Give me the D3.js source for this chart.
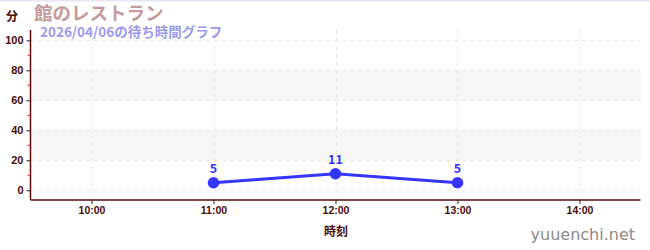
<!DOCTYPE html>
<html>
<head>
<meta charset="utf-8">
<script src="https://cdn.jsdelivr.net/npm/d3@7/dist/d3.min.js"></script>
<style>
  html, body { margin: 0; padding: 0; background: #fff; }
  svg { display: block; font-family: "Noto Sans CJK JP", "Noto Sans", sans-serif; }
</style>
</head>
<body>
<svg id="chart" width="650" height="250"></svg>
<script>
// Wait-time data for the day
const times = ["11:00", "12:00", "13:00"];
const waits = [5, 11, 5];
const xTickLabels = ["10:00", "11:00", "12:00", "13:00", "14:00"];
const yTicks = [0, 20, 40, 60, 80, 100];
const yMinorTicks = [10, 30, 50, 70, 90];
const bands = [[20, 40], [60, 80]];

const titleText = "館のレストラン";
const subtitleText = "2026/04/06の待ち時間グラフ";
const yUnit = "分";
const xTitle = "時刻";
const siteName = "yuuenchi.net";

const svg = d3.select("#chart");
const W = 650, H = 250;
const m = { left: 30.5, right: 9.5, top: 30, bottom: 50 };

const toMin = s => { const [h, mm] = s.split(":").map(Number); return h * 60 + mm; };

const x = d3.scaleLinear()
  .domain([toMin("9:30"), toMin("14:30")])
  .range([m.left, W - m.right]);
const y = d3.scaleLinear()
  .domain([-6.5, 106.9])
  .range([H - m.bottom, m.top]);

const axisColor = "#5a0a0a";
const labelColor = "#4a0a0a";
const seriesColor = "#3535ff";

// top border line
svg.append("rect").attr("x", 0).attr("y", 0).attr("width", W).attr("height", 1.5).attr("fill", "#e6e6f6");

// shaded bands
svg.append("g").selectAll("rect").data(bands).join("rect")
  .attr("x", m.left)
  .attr("width", W - m.right - m.left)
  .attr("y", d => y(d[1]))
  .attr("height", d => y(d[0]) - y(d[1]))
  .attr("fill", "#f6f6f6");

// grid lines
const grid = svg.append("g").attr("stroke", "#e8e8e8").attr("stroke-dasharray", "4,4").attr("stroke-width", 1);
grid.selectAll("line.h").data(yTicks).join("line")
  .attr("x1", m.left).attr("x2", W - m.right)
  .attr("y1", d => Math.round(y(d)) + 0.5).attr("y2", d => Math.round(y(d)) + 0.5);
grid.selectAll("line.v").data(xTickLabels).join("line")
  .attr("x1", d => Math.round(x(toMin(d))) + 0.5).attr("x2", d => Math.round(x(toMin(d))) + 0.5)
  .attr("y1", m.top).attr("y2", H - m.bottom);

// y axis
const yAxis = d3.axisLeft(y).tickValues(yTicks).tickSize(4).tickPadding(3).tickFormat(d3.format("d"));
const gy = svg.append("g").attr("transform", `translate(${m.left},0)`).call(yAxis);
gy.select(".domain").attr("stroke", axisColor).attr("stroke-width", 1.5)
  .attr("d", `M0,${m.top}V${H - m.bottom}`);
gy.selectAll(".tick line").attr("stroke", "#222");
gy.selectAll(".tick text").attr("fill", labelColor).attr("font-size", 11).attr("font-weight", "bold");
// minor ticks
svg.append("g").selectAll("line").data(yMinorTicks).join("line")
  .attr("x1", m.left - 3).attr("x2", m.left)
  .attr("y1", d => y(d)).attr("y2", d => y(d))
  .attr("stroke", "#d02020").attr("stroke-width", 1);

// x axis
const xAxis = d3.axisBottom(x).tickValues(xTickLabels.map(toMin)).tickSize(4).tickPadding(3)
  .tickFormat((d, i) => xTickLabels[i]);
const gx = svg.append("g").attr("transform", `translate(0,${H - m.bottom})`).call(xAxis);
gx.select(".domain").attr("stroke", axisColor).attr("stroke-width", 1.5)
  .attr("d", `M${m.left},0H${W - m.right}`);
gx.selectAll(".tick line").attr("stroke", "#222");
gx.selectAll(".tick text").attr("fill", labelColor).attr("font-size", 10.5).attr("font-weight", "bold");

// axis titles
svg.append("text").attr("x", 336).attr("y", 236).attr("text-anchor", "middle")
  .attr("fill", labelColor).attr("font-size", 12).attr("font-weight", "bold").text(xTitle);
svg.append("text").attr("x", 12).attr("y", 21).attr("text-anchor", "middle")
  .attr("fill", labelColor).attr("font-size", 12).attr("font-weight", "bold").text(yUnit);

// titles
svg.append("text").attr("x", 34).attr("y", 19.5)
  .attr("fill", "#c49a9a").attr("font-size", 18.5).attr("font-weight", "bold").text(titleText);
svg.append("text").attr("x", 40).attr("y", 36.5)
  .attr("fill", "#9a9af0").attr("font-size", 13.5).attr("font-weight", "bold").text(subtitleText);

// series line
const pts = times.map((t, i) => ({ t: toMin(t), v: waits[i] }));
svg.append("path").datum(pts)
  .attr("fill", "none").attr("stroke", seriesColor).attr("stroke-width", 3.2)
  .attr("d", d3.line().x(d => x(d.t)).y(d => y(d.v)));
svg.append("g").selectAll("circle").data(pts).join("circle")
  .attr("cx", d => x(d.t)).attr("cy", d => y(d.v)).attr("r", 5.8)
  .attr("fill", seriesColor);
svg.append("g").selectAll("text").data(pts).join("text")
  .attr("x", d => x(d.t)).attr("y", d => y(d.v) - 10)
  .attr("text-anchor", "middle").attr("fill", seriesColor)
  .attr("font-size", 12.5).attr("font-weight", "bold")
  .text(d => d.v);

// site name
svg.append("text").attr("x", 635).attr("y", 240).attr("text-anchor", "end")
  .attr("fill", "#8a8a8a").attr("font-size", 16).attr("font-family", "DejaVu Sans, sans-serif")
  .text(siteName);
</script>
</body>
</html>
